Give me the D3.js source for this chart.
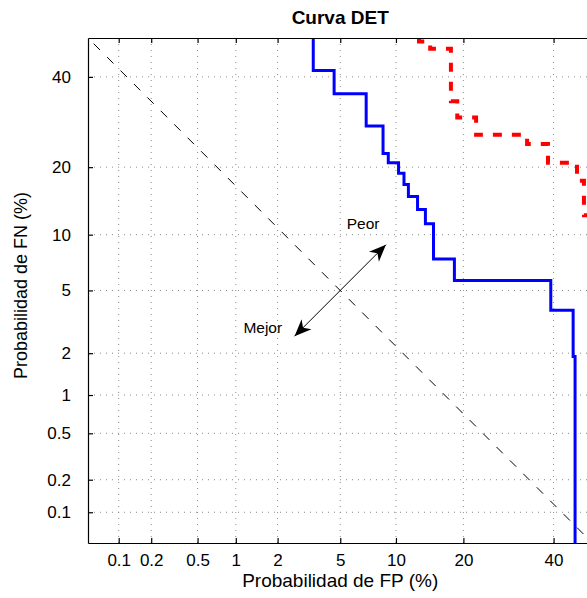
<!DOCTYPE html>
<html><head><meta charset="utf-8">
<script src="https://cdn.jsdelivr.net/npm/d3@7"></script>
<style>body{margin:0;background:#fff} svg{display:block} text{font-family:"Liberation Sans",Arial,sans-serif;fill:#000}</style>
</head><body><svg id="c" width="587" height="598"></svg>
<script>
// ---- data (percent) ----
const xTicks = [0.1, 0.2, 0.5, 1, 2, 5, 10, 20, 40];
const yTicks = [0.1, 0.2, 0.5, 1, 2, 5, 10, 20, 40];
const xTickLabels = ["0.1", "0.2", "0.5", "1", "2", "5", "10", "20", "40"];
const yTickLabels = ["0.1", "0.2", "0.5", "1", "2", "5", "10", "20", "40"];
const axisRange = [0.05, 50];
// blue curve (step vertices, vertical-then-horizontal)
const blueFP = [3.43, 4.6, 7.0, 8.6, 9.15, 10.3, 10.95, 11.5, 12.7, 13.8, 15.0, 18.4, 39.3, 45.0, 45.5, 45.5];
const blueFN = [55, 41.6, 35.8, 28.3, 22.6, 20.8, 18.9, 17.0, 15.1, 13.2, 11.3, 7.5, 5.7, 3.8, 1.9, 0.01];
// red dashed curve
const redFP = [12.9, 14.5, 17.8, 18.9, 22.4, 33.5, 38.6, 46.0, 47.8, 50.5, 50.5];
const redFN = [55, 49.1, 47.2, 34.0, 30.2, 26.4, 24.5, 20.8, 17.6, 12.4, 1];
// diagonal reference
const diagFP = [0.05, 50];
const diagFN = [50, 0.05];
// arrow and annotations
const arrowFP = [2.6, 8.9];
const arrowFN = [2.6, 8.9];
const annText = ["Peor", "Mejor"];
const annFP = [5.45, 1.14];
const annFN = [10.7, 2.74];

// inverse normal CDF (Acklam)
function probit(p) {
  const a=[-3.969683028665376e+01,2.209460984245205e+02,-2.759285104469687e+02,1.383577518672690e+02,-3.066479806614716e+01,2.506628277459239e+00];
  const b=[-5.447609879822406e+01,1.615858368580409e+02,-1.556989798598866e+02,6.680131188771972e+01,-1.328068155288572e+01];
  const c=[-7.784894002430293e-03,-3.223964580411365e-01,-2.400758277161838e+00,-2.549671348850150e+00,4.374664141464968e+00,2.938163982698783e+00];
  const d=[7.784695709041462e-03,3.224671290700398e-01,2.445134137142996e+00,3.754408661907416e+00];
  const pl=0.02425, ph=1-pl; let q,r;
  if (p < pl) { q=Math.sqrt(-2*Math.log(p)); return (((((c[0]*q+c[1])*q+c[2])*q+c[3])*q+c[4])*q+c[5])/((((d[0]*q+d[1])*q+d[2])*q+d[3])*q+1); }
  if (p <= ph) { q=p-0.5; r=q*q; return (((((a[0]*r+a[1])*r+a[2])*r+a[3])*r+a[4])*r+a[5])*q/(((((b[0]*r+b[1])*r+b[2])*r+b[3])*r+b[4])*r+1); }
  q=Math.sqrt(-2*Math.log(1-p)); return -(((((c[0]*q+c[1])*q+c[2])*q+c[3])*q+c[4])*q+c[5])/((((d[0]*q+d[1])*q+d[2])*q+d[3])*q+1);
}
const pz = v => probit(v / 100);

const L = 88, T = 38, R = 592.4, B = 543;
const svg = d3.select("#c");
const x = d3.scaleLinear().domain([pz(axisRange[0]), pz(axisRange[1])]).range([L, R]);
const y = d3.scaleLinear().domain([pz(axisRange[0]), pz(axisRange[1])]).range([B, T]);
const X = v => x(pz(v)), Y = v => y(pz(v));

svg.append("defs").append("clipPath").attr("id", "clip")
  .append("rect").attr("x", L).attr("y", T).attr("width", R - L).attr("height", B - T);

// grid
const grid = svg.append("g").attr("stroke", "#8c8c8c").attr("stroke-width", 1).attr("stroke-dasharray", "1,5");
grid.selectAll("line.vx").data(xTicks).join("line").attr("class", "vx")
  .attr("x1", d => X(d)).attr("x2", d => X(d)).attr("y1", B).attr("y2", T);
grid.selectAll("line.hy").data(yTicks).join("line").attr("class", "hy")
  .attr("y1", d => Y(d)).attr("y2", d => Y(d)).attr("x1", L).attr("x2", R);

const plot = svg.append("g").attr("clip-path", "url(#clip)");

// diagonal
plot.append("path")
  .attr("d", d3.line()(diagFP.map((v, i) => [X(v), Y(diagFN[i])])))
  .attr("fill", "none").attr("stroke", "#000").attr("stroke-width", 1)
  .attr("stroke-dasharray", "9,10").attr("stroke-dashoffset", -8);

// arrow
const defs = svg.select("defs");
defs.append("marker").attr("id", "ah").attr("viewBox", "-18 -8 20 16")
  .attr("refX", 0).attr("refY", 0).attr("markerWidth", 20).attr("markerHeight", 16)
  .attr("markerUnits", "userSpaceOnUse").attr("orient", "auto-start-reverse")
  .append("path").attr("d", "M0,0 L-17,-7 L-12,0 L-17,7 Z").attr("fill", "#000");
svg.append("line")
  .attr("x1", X(arrowFP[0])).attr("y1", Y(arrowFN[0]))
  .attr("x2", X(arrowFP[1])).attr("y2", Y(arrowFN[1]))
  .attr("stroke", "#000").attr("stroke-width", 1)
  .attr("marker-start", "url(#ah)").attr("marker-end", "url(#ah)");
svg.selectAll("text.ann").data(annText).join("text").attr("class", "ann")
  .attr("x", (d, i) => X(annFP[i])).attr("y", (d, i) => Y(annFN[i]))
  .attr("font-size", 15.5).text(d => d);

// curves
const stepLine = d3.line().curve(d3.curveStepBefore);
plot.append("path")
  .attr("d", stepLine(blueFP.map((v, i) => [X(v), Y(blueFN[i])])))
  .attr("fill", "none").attr("stroke", "#0000ff").attr("stroke-width", 3);
plot.append("path")
  .attr("d", stepLine(redFP.map((v, i) => [X(v), Y(redFN[i])])))
  .attr("fill", "none").attr("stroke", "#ff0000").attr("stroke-width", 4)
  .attr("stroke-dasharray", "9,10");

// axes
const xAxis = d3.axisBottom(x).tickValues(xTicks.map(pz)).tickFormat((d, i) => xTickLabels[i])
  .tickSizeInner(-5).tickSizeOuter(0).tickPadding(10.5);
const gx = svg.append("g").attr("transform", `translate(0,${B})`).call(xAxis);
const yAxis = d3.axisLeft(y).tickValues(yTicks.map(pz)).tickFormat((d, i) => yTickLabels[i])
  .tickSizeInner(-5).tickSizeOuter(0).tickPadding(17);
const gy = svg.append("g").attr("transform", `translate(${L},0)`).call(yAxis);
const xTop = d3.axisTop(x).tickValues(xTicks.map(pz)).tickFormat("").tickSizeInner(-5).tickSizeOuter(0);
svg.append("g").attr("transform", `translate(0,${T})`).call(xTop);
[gx, gy].forEach(g => {
  g.selectAll("text").attr("font-size", 17).attr("font-family", '"Liberation Sans",Arial,sans-serif').attr("fill", "#000");
});
svg.selectAll(".domain, .tick line").attr("stroke", "#000").attr("stroke-width", 1.2);

// labels
svg.append("text").attr("x", (L + R) / 2).attr("y", 23.5).attr("text-anchor", "middle")
  .attr("font-size", 19).attr("font-weight", "bold").text("Curva DET");
svg.append("text").attr("x", (L + R) / 2).attr("y", 587).attr("text-anchor", "middle")
  .attr("font-size", 19).text("Probabilidad de FP (%)");
svg.append("text").attr("transform", `translate(26.5,285.5) rotate(-90)`).attr("text-anchor", "middle")
  .attr("font-size", 18).text("Probabilidad de FN (%)");
</script></body></html>
